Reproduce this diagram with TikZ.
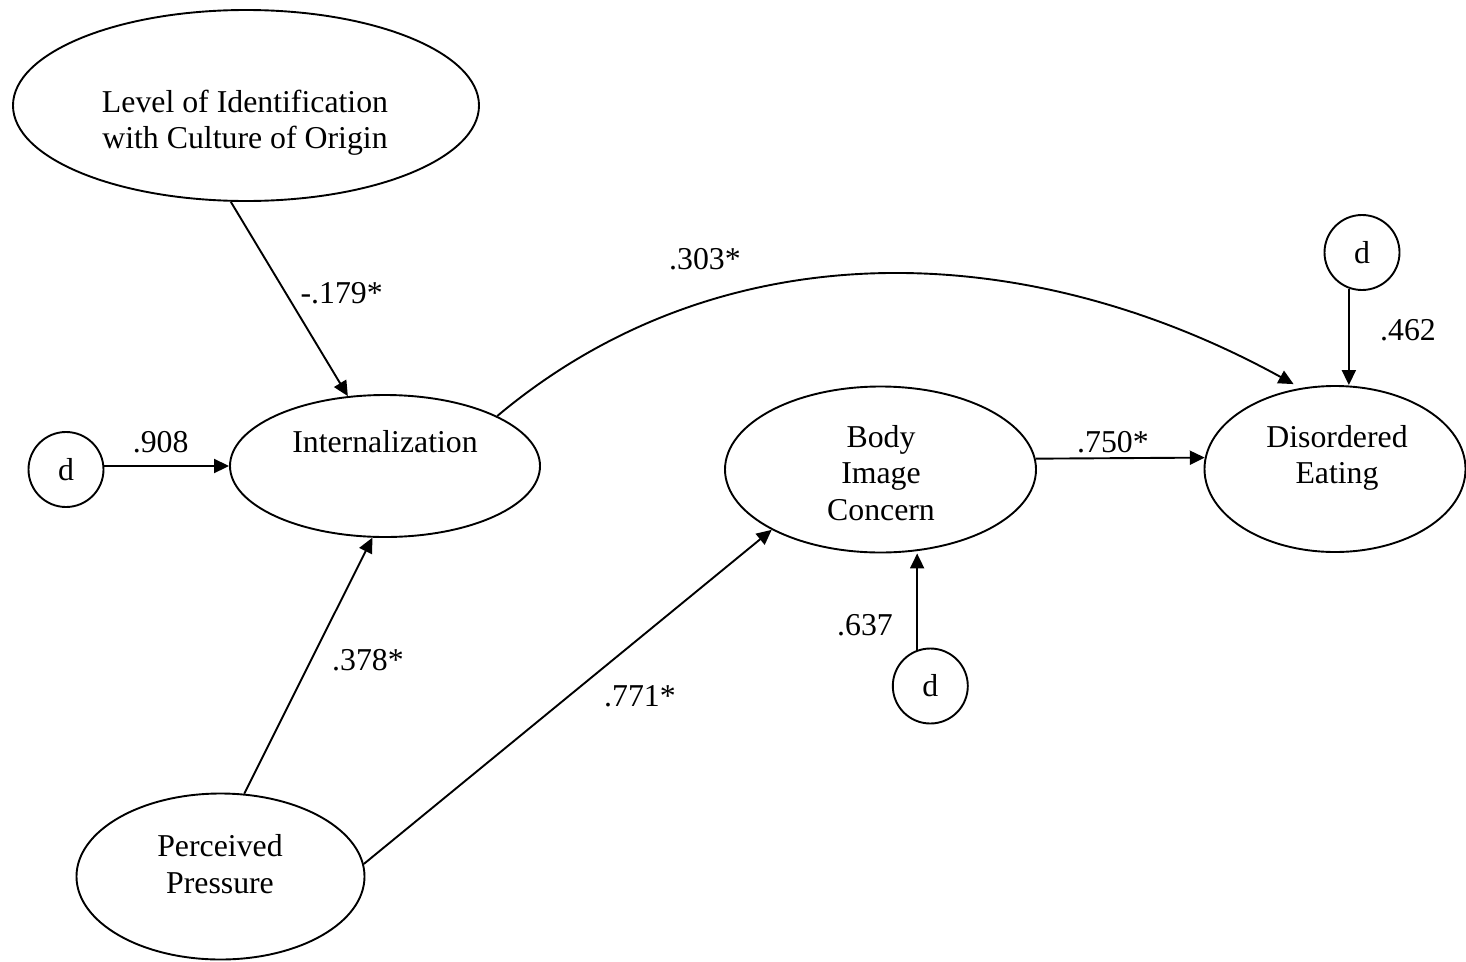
\documentclass[tikz,border=0pt]{standalone}
\usepackage{fontspec}
\setmainfont{Liberation Serif}
\usetikzlibrary{arrows.meta,shapes.geometric}
\begin{document}
\begin{tikzpicture}[x=1pt,y=-1pt,
  every node/.style={font=\fontsize{31.8}{36.5}\selectfont},
  latent/.style={draw, ellipse, line width=1.9pt, inner sep=0pt},
  errc/.style={draw, circle, line width=1.9pt, inner sep=0pt, minimum size=75pt},
  caption/.style={align=center, inner sep=0pt},
  coef/.style={inner sep=0pt},
  link/.style={line width=1.9pt, -{Triangle[length=15pt,width=14pt]}},
]
\useasboundingbox (0,0) rectangle (1466,961);

% latent variables
\node[latent, minimum width=466pt, minimum height=191pt] (level)  at (246,105.5) {};
\node[latent, minimum width=310pt, minimum height=142pt] (intern) at (385,466) {};
\node[latent, minimum width=311pt, minimum height=166pt] (body)   at (880.5,469.5) {};
\node[latent, minimum width=261pt, minimum height=166pt] (de)     at (1335,469) {};
\node[latent, minimum width=288pt, minimum height=166pt] (perc)   at (220.5,876.5) {};

% disturbance terms
\node[errc] (dL)  at (66,469.5) {d};
\node[errc] (dTR) at (1362,252.5) {d};
\node[errc] (dB)  at (930.3,686) {d};

% variable names
\node[caption] (levelT) at (245,122.7) {Level of Identification\\with Culture of Origin};
\node[caption, anchor=base] (internT) at (385,452.7) {Internalization};
\node[caption] (bodyT) at (881,473) {Body\\Image\\Concern};
\node[caption] (deT) at (1337,458) {Disordered\\Eating};
\node[caption] (percT) at (220,864) {Perceived\\Pressure};

% path coefficients
\node[coef] (c908) at (160.7,441.7) {.908};
\node[coef] (c179) at (341.7,293.3) {-.179*};
\node[coef] (c303) at (705,259) {.303*};
\node[coef] (c462) at (1408,330) {.462};
\node[coef] (c750) at (1113,441.7) {.750*};
\node[coef] (c637) at (865,625) {.637};
\node[coef] (c378) at (368,660) {.378*};
\node[coef] (c771) at (640,696.7) {.771*};

% structural paths
\draw[link] (level.261) -- (intern.118);
\draw[link] (intern.west -| dL.east) -- (intern.west);
\draw[link] (perc.74) -- (intern.260);
\draw[link] (perc.5) -- (body.209);
\draw[link] (body.4) -- (de.175);
\draw[link] (dTR.250) -- (dTR.250 |- de.north);
\draw[link] (dB.110) -- (dB.110 |- body.south);
\draw[link, shorten >=8pt] (intern.24) .. controls (725,225) and (1030,239) .. (de.113);
\end{tikzpicture}
\end{document}
